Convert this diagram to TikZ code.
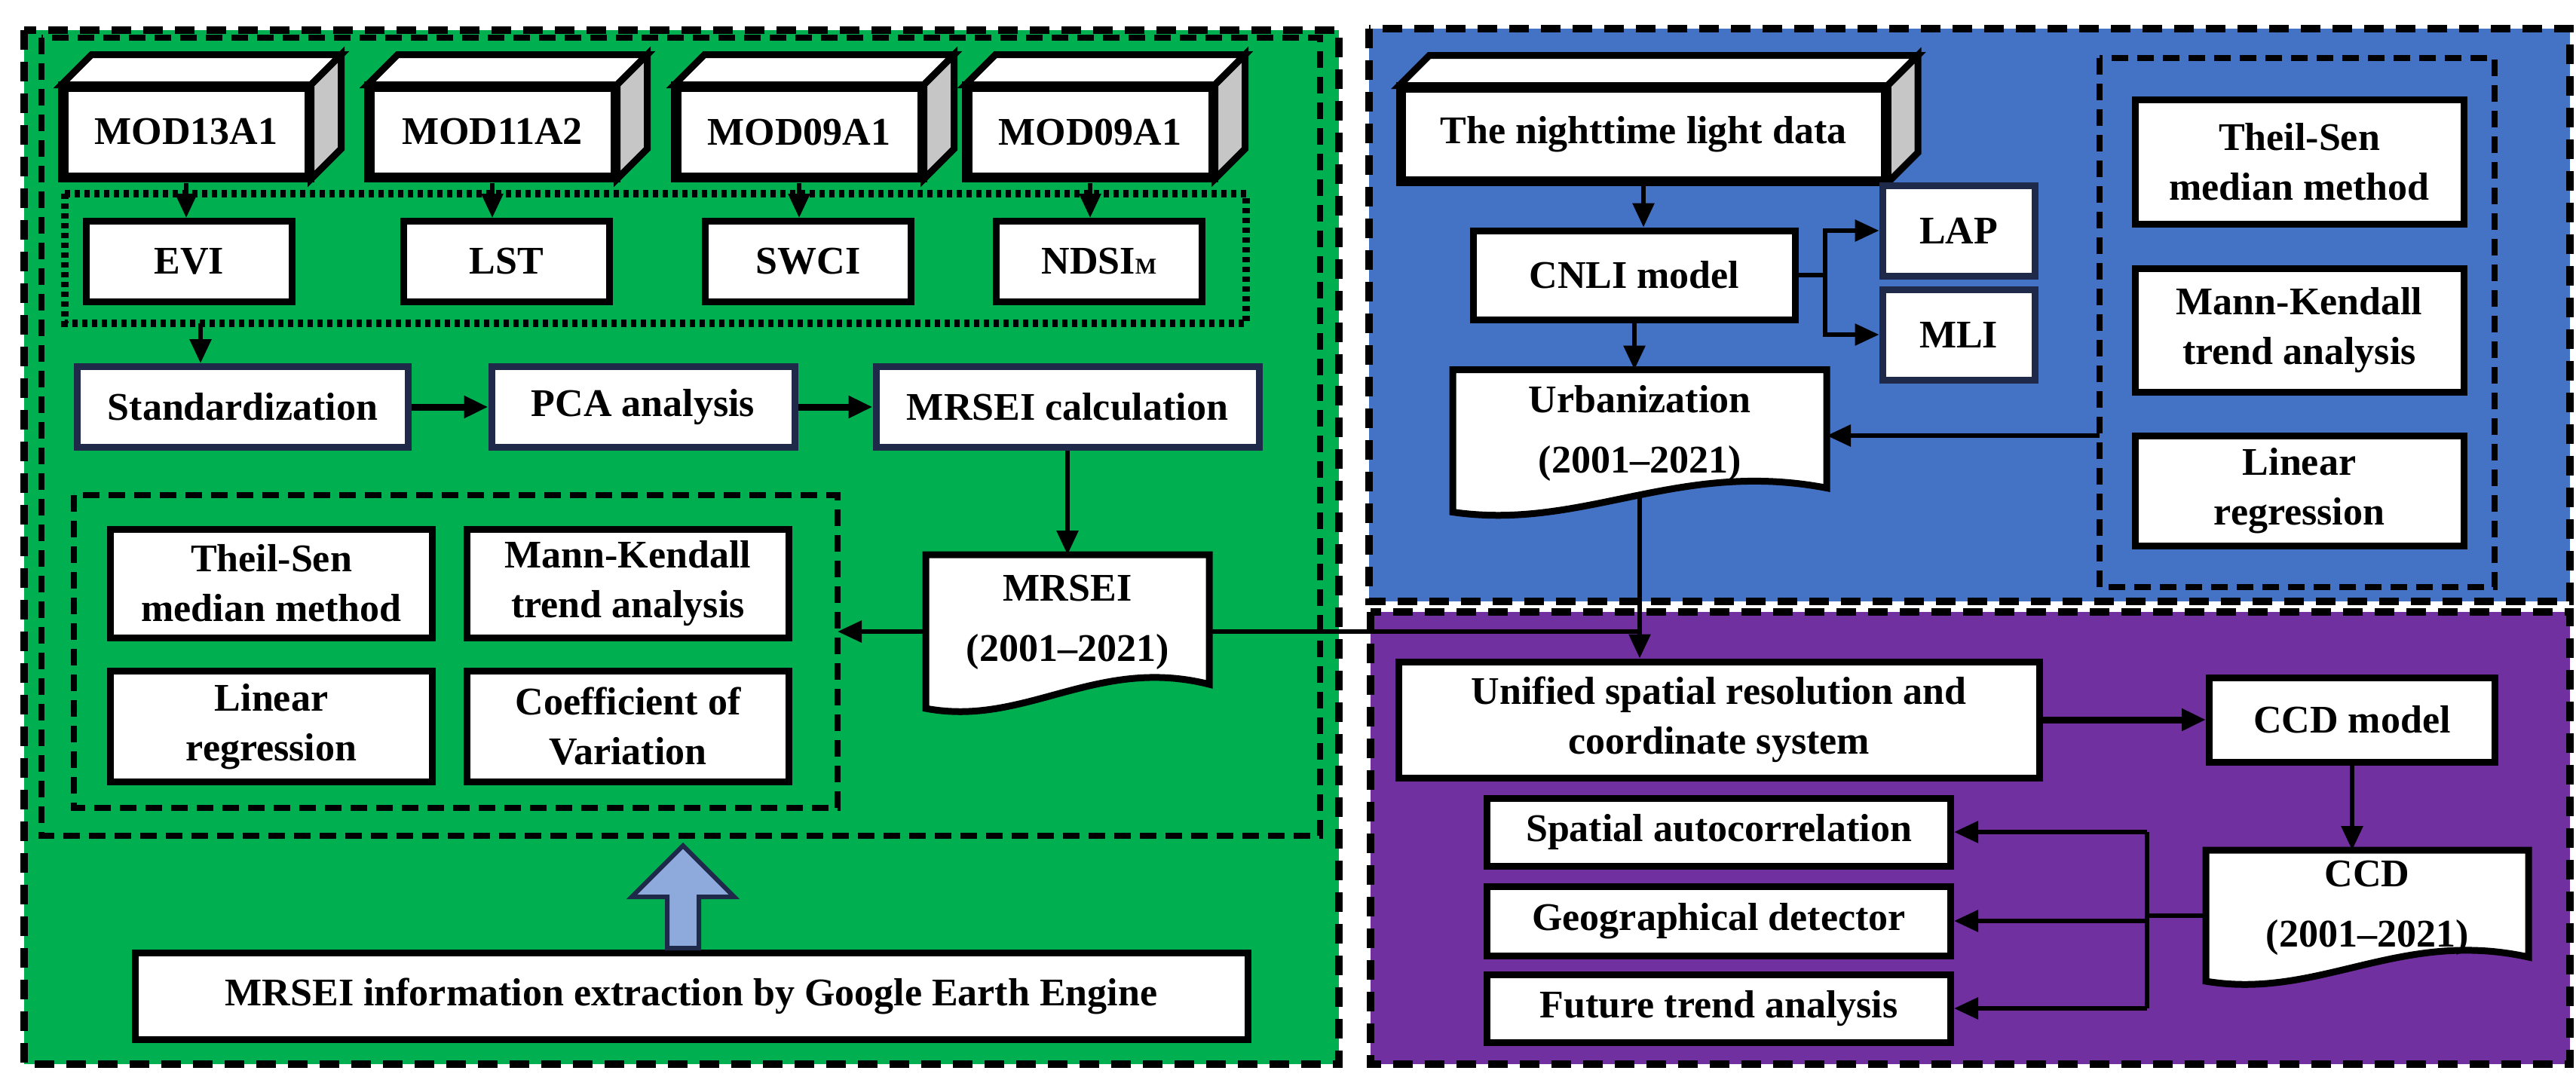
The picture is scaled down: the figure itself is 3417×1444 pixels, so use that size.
\documentclass[tikz,border=0pt]{standalone}
\usepackage{fontspec}
\setmainfont{Liberation Serif}
\usetikzlibrary{arrows.meta,calc}
\definecolor{pgreen}{RGB}{0,176,80}
\definecolor{pblue}{RGB}{68,114,196}
\definecolor{ppurple}{RGB}{112,48,160}
\definecolor{navy}{RGB}{31,42,74}
\definecolor{lightarrow}{RGB}{142,169,219}
\tikzset{
  box/.style={draw=black,fill=white,line width=9pt,inner sep=0pt,align=center,
    font=\bfseries\fontsize{52}{66}\selectfont},
  nbox/.style={box,draw=navy},
  doc/.style={box,draw=none,fill=none},
  panel/.style={line width=10pt,dash pattern=on 26pt off 16pt},
  inner/.style={line width=8pt,dash pattern=on 22pt off 12pt},
  dotbox/.style={line width=10pt,dash pattern=on 7pt off 6pt},
  link/.style={line width=6pt,-{Triangle[length=32pt,width=28pt]}},
  plain/.style={line width=6pt}
}
% cuboid faces on top of a front node
\newcommand{\cubefaces}[1]{%
  \draw[line width=9pt,fill=white,line join=miter] (#1.north west) -- ++(40,-40) -- ($(#1.north east)+(40,-40)$) -- (#1.north east) -- cycle;
  \draw[line width=9pt,fill=gray!45,line join=miter] (#1.north east) -- ++(40,-40) -- ($(#1.south east)+(40,-40)$) -- (#1.south east) -- cycle;
  \draw[line width=9pt] (#1.north west) rectangle (#1.south east);}
% wavy document outline round a node
\newcommand{\docwave}[1]{%
  \draw[line width=9pt,fill=white] (#1.south west) -- (#1.north west) -- (#1.north east) -- ($(#1.south east)+(0,-32)$)
    .. controls ($(#1.south west)!0.6!(#1.south east)+(0,-70)$) and ($(#1.south west)!0.35!(#1.south east)+(0,25)$) .. (#1.south west) -- cycle;}
\begin{document}
\begin{tikzpicture}[x=1pt,y=-1pt]
\useasboundingbox (0,0) rectangle (3417,1444);
% panels
\draw[panel,fill=pgreen] (32,40) rectangle (1776,1412);
\draw[panel,fill=pblue] (1816,38) rectangle (3409,798);
\draw[panel,fill=ppurple] (1818,812) rectangle (3409,1412);
\draw[inner] (55,50) rectangle (1751,1109);
\draw[dotbox] (86,257) rectangle (1653,429);
\draw[inner] (98,657) rectangle (1111,1072);
\draw[inner] (2785,77) rectangle (3309,779);

% MRSEI part
\node[box,minimum width=322pt,minimum height=116pt] (mod13) at (247,175) {MOD13A1};
\node[box,minimum width=322pt,minimum height=116pt] (mod11) at (653,175) {MOD11A2};
\node[box,minimum width=322pt,minimum height=116pt] (mod09a) at (1060,175) {MOD09A1};
\node[box,minimum width=322pt,minimum height=116pt] (mod09b) at (1446,175) {MOD09A1};
\cubefaces{mod13}\cubefaces{mod11}\cubefaces{mod09a}\cubefaces{mod09b}
\node[box,minimum width=273pt,minimum height=107pt] (evi) at (251,347) {EVI};
\node[box,minimum width=273pt,minimum height=107pt] (lst) at (672,347) {LST};
\node[box,minimum width=273pt,minimum height=107pt] (swci) at (1072,347) {SWCI};
\node[box,minimum width=273pt,minimum height=107pt] (ndsi) at (1458,347) {NDSI{\fontsize{30}{30}\selectfont M}};
\coordinate (idxout) at (266,429);
\node[nbox,minimum width=439pt,minimum height=107pt] (std) at (322,540) {Standardization};
\node[nbox,minimum width=402pt,minimum height=107pt] (pca) at (853,540) {PCA analysis};
\node[nbox,minimum width=508pt,minimum height=107pt] (calc) at (1416,540) {MRSEI calculation};
\node[box,minimum width=427pt,minimum height=144pt] (theil) at (360,774) {Theil-Sen\\median method};
\node[box,minimum width=427pt,minimum height=144pt] (mk) at (833,774) {Mann-Kendall\\trend analysis};
\node[box,minimum width=427pt,minimum height=147pt] (lin) at (360,964) {Linear\\regression};
\node[box,minimum width=427pt,minimum height=147pt] (cv) at (833,964) {Coefficient of\\Variation};
\coordinate (statsR) at (1111,838);
\node[doc,minimum width=367pt,minimum height=195pt] (mrsei) at (1416,838) {};
\node[box,minimum width=1476pt,minimum height=115pt] (gee) at (917,1322) {MRSEI information extraction by Google Earth Engine};

% urbanization part
\node[box,minimum width=639pt,minimum height=120pt] (night) at (2180,178) {The nighttime light data};
\cubefaces{night}
\node[box,minimum width=427pt,minimum height=118pt] (cnli) at (2168,365) {CNLI model};
\node[nbox,minimum width=202pt,minimum height=120pt] (lap) at (2598,306) {LAP};
\node[nbox,minimum width=202pt,minimum height=120pt] (mli) at (2598,444) {MLI};
\node[doc,minimum width=487pt,minimum height=180pt] (urban) at (2175,585) {};
\node[box,minimum width=436pt,minimum height=165pt] (bts) at (3050,215) {Theil-Sen\\median method};
\node[box,minimum width=436pt,minimum height=164pt] (bmk) at (3050,438) {Mann-Kendall\\trend analysis};
\node[box,minimum width=436pt,minimum height=146pt] (blin) at (3050,651) {Linear\\regression};
\coordinate (bstatsL) at (2785,578);

% coupling part
\node[box,minimum width=850pt,minimum height=154pt] (unif) at (2280,955) {Unified spatial resolution and\\coordinate system};
\node[box,minimum width=379pt,minimum height=112pt] (ccdm) at (3120,955) {CCD model};
\node[doc,minimum width=419pt,minimum height=165pt] (ccd) at (3140,1215) {};
\node[box,minimum width=615pt,minimum height=90pt] (spat) at (2280,1104) {Spatial autocorrelation};
\node[box,minimum width=615pt,minimum height=92pt] (geo) at (2280,1222) {Geographical detector};
\node[box,minimum width=615pt,minimum height=90pt] (fut) at (2280,1338) {Future trend analysis};

% document shapes
\draw[plain] (urban.center) -- (urban.center |- mrsei.east) -- (mrsei.east);
\docwave{mrsei}\docwave{urban}\docwave{ccd}
\node[font=\bfseries\fontsize{52}{80}\selectfont,align=center] (mrseit) at ($(mrsei)+(0,-12)$) {MRSEI\\(2001--2021)};
\node[font=\bfseries\fontsize{52}{80}\selectfont,align=center] (urbant) at ($(urban)+(0,-10)$) {Urbanization\\(2001--2021)};
\node[font=\bfseries\fontsize{52}{80}\selectfont,align=center] (ccdt) at ($(ccd)+(0,-10)$) {CCD\\(2001--2021)};

% connectors
\foreach \a/\b in {mod13/evi,mod11/lst,mod09a/swci,mod09b/ndsi}
  \draw[link] ($(\a.south)+(0,5)$) -- ($(\a.south |- \b.north)$);
\draw[link] (idxout) -- (idxout |- std.north);
\draw[link,line width=9pt] (std) -- (pca);
\draw[link,line width=9pt] (pca) -- (calc);
\draw[link] (calc.south) -- (calc.south |- mrsei.north);
\draw[link] (mrsei.west) -- (statsR);
\draw[link] (urban.center |- mrsei.east) -- (urban.center |- unif.north);
\draw[link] (night.south) -- (night.south |- cnli.north);
\draw[link] (cnli.south) -- (cnli.south |- urban.north);
\draw[plain] (cnli.east) -- ++(35,0) coordinate (split);
\draw[link] (split) |- (lap.west);
\draw[link] (split) |- (mli.west);
\draw[link] (bstatsL) -- (bstatsL -| urban.east);
\draw[link,line width=9pt] (unif) -- (ccdm);
\draw[link] (ccdm.south) -- (ccdm.south |- ccd.north);
\draw[plain] (ccd.west) -- ++(-78,0) coordinate (bus);
\draw[plain] (bus |- spat.east) -- (bus |- fut.east);
\foreach \n in {spat,geo,fut}
  \draw[link] (bus |- \n.east) -- (\n.east);
% big arrow
\draw[line width=6pt,draw=navy,fill=lightarrow] (885,1258) -- (885,1190) -- (838,1190) -- (906,1122) -- (974,1190) -- (927,1190) -- (927,1258) -- cycle;
\end{tikzpicture}
\end{document}
